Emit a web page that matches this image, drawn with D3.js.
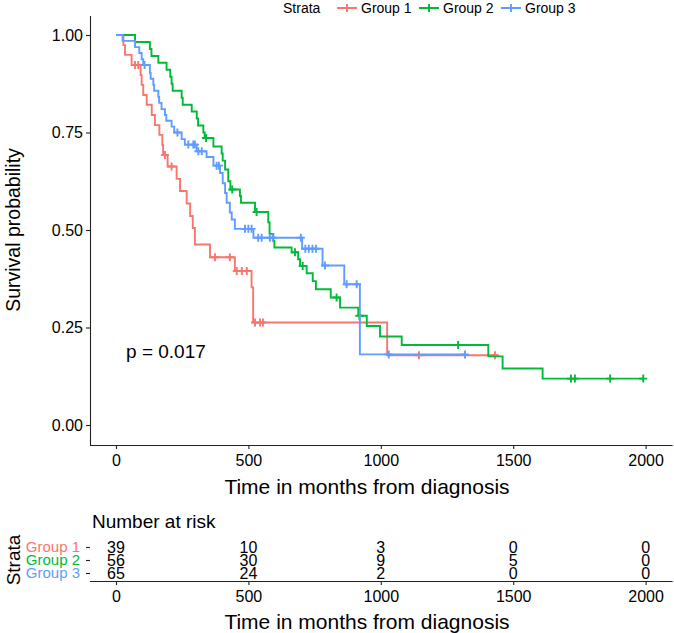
<!DOCTYPE html>
<html><head><meta charset="utf-8">
<script src="https://cdn.jsdelivr.net/npm/d3@7"></script>
<style>body{margin:0;background:#fff} svg{display:block} text{font-family:"Liberation Sans",Arial,sans-serif}</style>
</head><body><svg id="c" width="674" height="633"></svg>
<script>
const groups = ["Group 1", "Group 2", "Group 3"];
const colors = ["#F8766D", "#00BA38", "#619CFF"];

// Group 1 (event times and survival after each event)
const g1Times = [28, 34, 59, 93, 97, 103, 116, 135, 147, 164, 175, 178, 195, 229, 242, 267, 280, 290, 298, 355, 449, 512, 518, 1024];
const g1Surv  = [0.974, 0.949, 0.923, 0.897, 0.872, 0.846, 0.821, 0.795, 0.769, 0.744, 0.718, 0.692, 0.663, 0.631, 0.600, 0.568, 0.536, 0.505, 0.463, 0.430, 0.395, 0.353, 0.263, 0.179];
const g1Censor = [72, 84, 185, 210, 374, 430, 456, 475, 494, 525, 544, 555, 1144, 1431];

// Group 2
const g2Times = [72, 128, 134, 160, 191, 205, 210, 214, 248, 252, 286, 305, 310, 330, 335, 368, 399, 403, 412, 424, 432, 468, 472, 525, 575, 580, 594, 598, 663, 688, 695, 720, 743, 755, 811, 846, 915, 947, 997, 1079, 1406, 1460, 1611];
const g2Surv  = [0.982, 0.964, 0.946, 0.929, 0.911, 0.893, 0.875, 0.857, 0.839, 0.821, 0.804, 0.786, 0.768, 0.750, 0.736, 0.714, 0.696, 0.678, 0.655, 0.625, 0.604, 0.587, 0.570, 0.546, 0.520, 0.490, 0.472, 0.455, 0.443, 0.425, 0.408, 0.389, 0.369, 0.348, 0.327, 0.301, 0.280, 0.254, 0.227, 0.205, 0.176, 0.145, 0.119];
const g2Censor = [340, 439, 531, 676, 705, 833, 919, 1292, 1718, 1733, 1866, 1991];

// Group 3
const g3Times = [25, 72, 88, 97, 103, 128, 131, 141, 144, 160, 163, 172, 185, 190, 210, 220, 248, 260, 305, 342, 368, 393, 403, 412, 418, 430, 437, 449, 519, 703, 780, 862, 921];
const g3Surv  = [0.985, 0.969, 0.954, 0.938, 0.923, 0.903, 0.888, 0.872, 0.857, 0.841, 0.826, 0.810, 0.795, 0.780, 0.765, 0.750, 0.733, 0.719, 0.702, 0.687, 0.665, 0.646, 0.620, 0.595, 0.570, 0.545, 0.527, 0.503, 0.480, 0.452, 0.409, 0.361, 0.181];
const g3Censor = [108, 232, 273, 292, 298, 311, 324, 380, 389, 487, 500, 512, 537, 550, 581, 592, 698, 715, 728, 742, 755, 789, 871, 909, 1030, 1318];

const xTicks = [0, 500, 1000, 1500, 2000];
const yTicks = [0, 0.25, 0.5, 0.75, 1];
const risk1 = [39, 10, 3, 0, 0];
const risk2 = [56, 30, 9, 5, 0];
const risk3 = [65, 24, 2, 0, 0];
const pText = "p = 0.017";
const xTitle = "Time in months from diagnosis";
const yTitle = "Survival probability";

const series = [
  {name: groups[0], color: colors[0], times: g1Times, surv: g1Surv, cens: g1Censor, risk: risk1},
  {name: groups[1], color: colors[1], times: g2Times, surv: g2Surv, cens: g2Censor, risk: risk2},
  {name: groups[2], color: colors[2], times: g3Times, surv: g3Surv, cens: g3Censor, risk: risk3}
];

const svg = d3.select("#c");
const x = d3.scaleLinear().domain([-100, 2100]).range([89.5, 672.1]);
const y = d3.scaleLinear().domain([-0.05, 1.05]).range([444.5, 15.5]);
const axisColor = "#222";
const font = '"Liberation Sans",Arial,sans-serif';

function styleAxis(g) {
  g.selectAll("path.domain").attr("stroke", axisColor).attr("stroke-width", 1.1);
  g.selectAll(".tick line").attr("stroke", axisColor).attr("stroke-width", 1.1);
  g.selectAll(".tick text").attr("fill", "#000").style("font-family", font).style("font-size", "16px");
}

// main axes
const gy = svg.append("g").attr("transform", "translate(90,0)")
  .call(d3.axisLeft(y).tickValues(yTicks).tickFormat(d3.format(".2f")).tickSize(4).tickSizeOuter(0).tickPadding(3));
styleAxis(gy);
const gx = svg.append("g").attr("transform", "translate(0,445)")
  .call(d3.axisBottom(x).tickValues(xTicks).tickFormat(d3.format("d")).tickSize(4).tickSizeOuter(0).tickPadding(6));
styleAxis(gx);

const titleX = 367;
svg.append("text").attr("x", titleX).attr("y", 494).attr("text-anchor", "middle")
  .style("font-size", "21px").text(xTitle);
svg.append("text").attr("transform", `translate(20,${y(0.5)}) rotate(-90)`).attr("text-anchor", "middle")
  .style("font-size", "19.5px").text(yTitle);

function survAt(s, t) {
  let v = 1;
  for (let i = 0; i < s.times.length; i++) if (s.times[i] <= t) v = s.surv[i];
  return v;
}

const line = d3.line().x(d => x(d[0])).y(d => y(d[1])).curve(d3.curveStepAfter);
series.forEach(s => {
  const end = Math.max(d3.max(s.times), d3.max(s.cens));
  const pts = [[0, 1]];
  s.times.forEach((t, i) => pts.push([t, s.surv[i]]));
  pts.push([end, s.surv[s.surv.length - 1]]);
  svg.append("path").attr("d", line(pts)).attr("fill", "none")
    .attr("stroke", s.color).attr("stroke-width", 1.9);
  s.cens.forEach(c => {
    const cx = x(c), cy = y(survAt(s, c));
    svg.append("path").attr("d", `M${cx - 4},${cy}H${cx + 4}M${cx},${cy - 4}V${cy + 4}`)
      .attr("stroke", s.color).attr("stroke-width", 1.9);
  });
});

svg.append("text").attr("x", x(38)).attr("y", y(0.19)).attr("dy", "0.35em")
  .style("font-size", "19px").text(pText);

// legend
const leg = svg.append("g");
leg.append("text").attr("x", 283).attr("y", 8).attr("dy", "0.35em").style("font-size", "14px").text("Strata");
const legX = [337, 419, 501];
series.forEach((s, i) => {
  const lx = legX[i];
  leg.append("path").attr("d", `M${lx},8H${lx + 20}M${lx + 10},4V12`).attr("stroke", s.color).attr("stroke-width", 1.9);
  leg.append("text").attr("x", lx + 24).attr("y", 8).attr("dy", "0.35em").style("font-size", "14px").text(s.name);
});

// risk table
svg.append("text").attr("x", 92).attr("y", 521).attr("dy", "0.35em").style("font-size", "19px").text("Number at risk");
const ry = d3.scalePoint().domain(groups).range([547, 573]);
const gry = svg.append("g").attr("transform", "translate(90,0)")
  .call(d3.axisLeft(ry).tickSize(4).tickPadding(6));
gry.select("path.domain").remove();
gry.selectAll(".tick line").attr("stroke", axisColor).attr("stroke-width", 1.1);
gry.selectAll(".tick text").style("font-family", font).style("font-size", "15px")
  .attr("fill", (d, i) => colors[i]);
const grx = svg.append("g").attr("transform", "translate(0,581)")
  .call(d3.axisBottom(x).tickValues(xTicks).tickFormat(d3.format("d")).tickSize(4).tickSizeOuter(0).tickPadding(6));
styleAxis(grx);
series.forEach(s => {
  s.risk.forEach((v, i) => {
    svg.append("text").attr("x", x(xTicks[i])).attr("y", ry(s.name)).attr("dy", "0.35em")
      .attr("text-anchor", "middle").style("font-size", "16px").text(v);
  });
});
svg.append("text").attr("x", titleX).attr("y", 629).attr("text-anchor", "middle")
  .style("font-size", "21px").text(xTitle);
svg.append("text").attr("transform", `translate(13,${ry("Group 2")}) rotate(-90)`).attr("text-anchor", "middle")
  .attr("dy", "0.35em").style("font-size", "19px").text("Strata");
</script></body></html>
